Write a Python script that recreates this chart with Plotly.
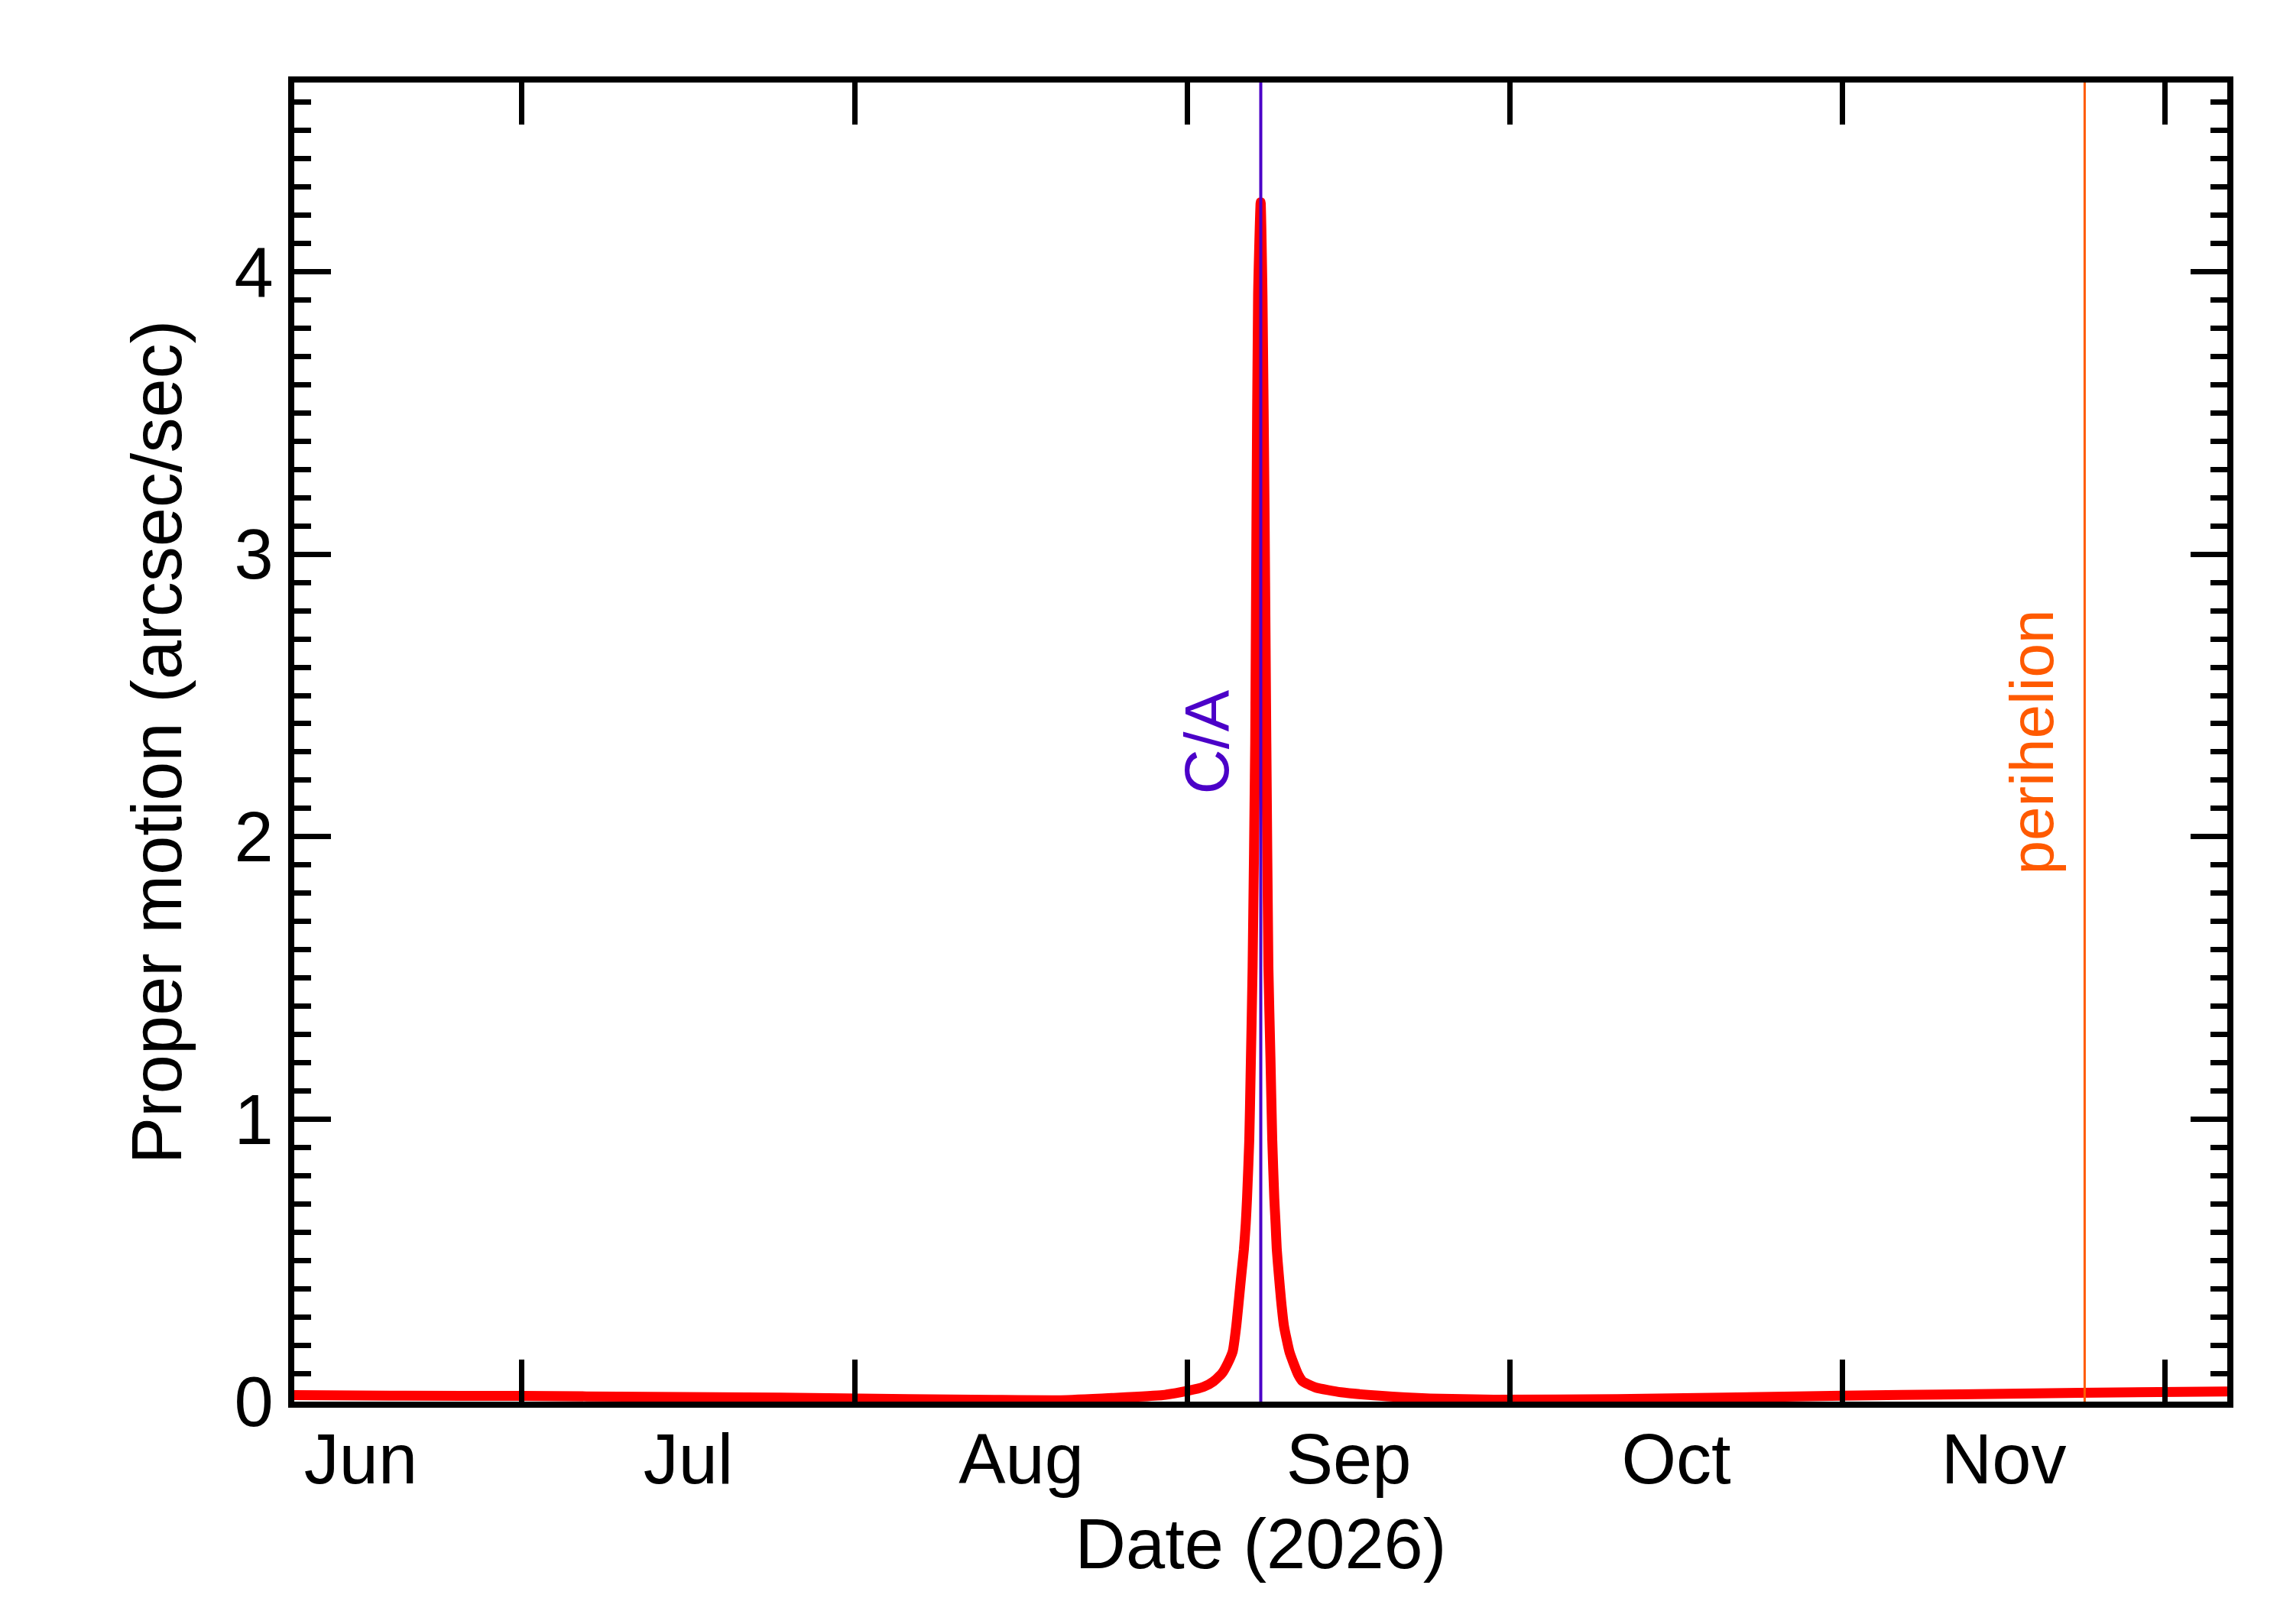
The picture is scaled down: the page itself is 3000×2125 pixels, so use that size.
import plotly.graph_objects as go

# proper motion
dates = ["2026-06-09 19:26", "2026-06-20", "2026-07-01", "2026-07-13", "2026-07-25",
         "2026-08-06", "2026-08-14", "2026-08-20 04:48", "2026-08-24 22:19", "2026-08-29 16:05",
         "2026-09-01", "2026-09-02 11:17", "2026-09-03 10:05", "2026-09-04 04:48",
         "2026-09-04 16:48", "2026-09-05 04:48", "2026-09-05 12:43", "2026-09-05 18:29",
         "2026-09-06 00:00", "2026-09-06 05:46", "2026-09-06 09:50", "2026-09-06 12:43",
         "2026-09-06 17:46", "2026-09-06 20:38", "2026-09-07 01:12", "2026-09-07 06:58",
         "2026-09-07 09:50", "2026-09-07 13:26", "2026-09-07 19:12", "2026-09-07 23:17",
         "2026-09-08 04:05", "2026-09-08 07:55", "2026-09-08 12:29", "2026-09-08 17:02",
         "2026-09-08 21:07", "2026-09-09 01:41", "2026-09-09 04:34", "2026-09-09 07:12",
         "2026-09-09 11:46", "2026-09-09 16:48", "2026-09-09 23:17", "2026-09-10 11:17",
         "2026-09-10 21:22", "2026-09-11 07:12", "2026-09-11 16:48", "2026-09-12 21:50",
         "2026-09-15 06:43", "2026-09-18 20:10", "2026-09-23 13:55", "2026-09-29 12:00",
         "2026-10-11", "2026-10-21", "2026-11-01", "2026-11-12", "2026-11-23",
         "2026-12-06 19:26"]
motion = [0.023, 0.021, 0.020, 0.017, 0.014,
          0.009, 0.006, 0.005, 0.013, 0.023,
          0.038, 0.052, 0.072, 0.100,
          0.133, 0.178, 0.268, 0.359,
          0.449, 0.539, 0.629, 0.719,
          0.926, 1.15, 1.538, 2.33,
          3.124, 3.917, 4.246, 3.917,
          3.124, 2.33, 1.538, 1.22,
          0.926, 0.719, 0.629, 0.539,
          0.449, 0.359, 0.268, 0.178,
          0.133, 0.095, 0.072, 0.050,
          0.033, 0.021, 0.011, 0.007,
          0.009, 0.014, 0.021, 0.026, 0.031,
          0.036]

ca_date = "2026-09-07 19:26"
peri_date = "2026-11-23 12:43"
x_range = ["2026-06-09 19:26", "2026-12-06 19:26"]
y_range = [0, 4.67]

font = "Liberation Sans, Arial, Helvetica, sans-serif"
ca_color = "#4b00c8"
peri_color = "#ff5a00"

fig = go.Figure()
fig.add_trace(go.Scatter(x=dates, y=motion, mode="lines",
                         line=dict(color="#ff0000", width=13, shape="spline", smoothing=0.5)))

fig.add_shape(type="line", xref="x", yref="paper", x0=ca_date, x1=ca_date, y0=0, y1=1,
              line=dict(color=ca_color, width=4))
fig.add_shape(type="line", xref="x", yref="paper", x0=peri_date, x1=peri_date, y0=0, y1=1,
              line=dict(color=peri_color, width=3))

fig.add_annotation(x=ca_date, y=0.5, xref="x", yref="paper", text="C/A", textangle=-90,
                   showarrow=False, xshift=-72, font=dict(family=font, size=82, color=ca_color))
fig.add_annotation(x=peri_date, y=0.5, xref="x", yref="paper", text="perihelion", textangle=-90,
                   showarrow=False, xshift=-69, font=dict(family=font, size=80, color=peri_color))

fig.update_xaxes(
    range=x_range, type="date", dtick="M1", tick0="2026-06-01", tickformat="%b",
    ticklabelmode="period", ticks="inside", ticklen=55, tickwidth=7, tickcolor="black",
    showline=True, linewidth=8, linecolor="black", mirror="ticks", showgrid=False, zeroline=False,
    tickfont=dict(family=font, size=92, color="black"), ticklabelstandoff=-11,
    title=dict(text="Date (2026)", font=dict(family=font, size=92, color="black"), standoff=31),
)
fig.update_yaxes(
    range=y_range, tickvals=[0, 1, 2, 3, 4], ticks="inside", ticklen=48, tickwidth=7,
    tickcolor="black", showline=True, linewidth=8, linecolor="black", mirror="ticks",
    showgrid=False, zeroline=False,
    minor=dict(dtick=0.1, tick0=0, ticks="inside", ticklen=22, tickwidth=7, tickcolor="black"),
    tickfont=dict(family=font, size=92, color="black"), ticklabelstandoff=1,
    title=dict(text="Proper motion (arcsec/sec)", font=dict(family=font, size=92, color="black"),
               standoff=41),
)

fig.update_layout(
    width=3000, height=2125, showlegend=False,
    paper_bgcolor="white", plot_bgcolor="white",
    margin=dict(l=377, r=94, t=100, b=299),
)

fig.write_html("out.html")
